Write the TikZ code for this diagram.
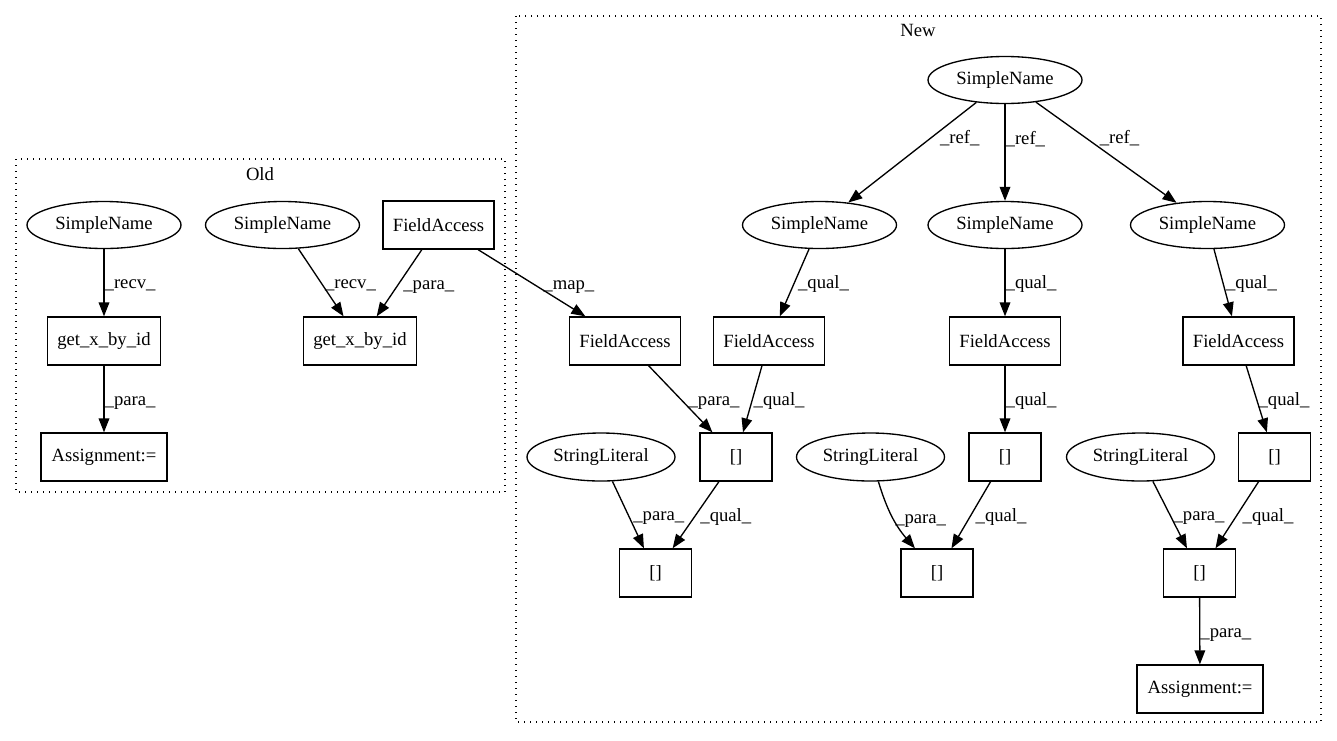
\documentclass[tikz,border=0pt]{standalone}
\usepackage{fontspec}
\setmainfont{Liberation Serif}
\usetikzlibrary{shapes.geometric,arrows.meta}
\begin{document}
\begin{tikzpicture}[x=0.75pt,y=-0.75pt,
  font=\fontsize{14}{16}\selectfont,
  ell/.style={draw, ellipse, line width=1pt, minimum width=115.5pt, minimum height=35.25pt, inner sep=0pt},
  sell/.style={draw, ellipse, line width=1pt, minimum width=111pt, minimum height=36pt, inner sep=0pt},
  box/.style={draw, rectangle, line width=1pt, minimum height=36pt, inner sep=0pt},
  fabox/.style={box, minimum width=83.25pt},
  getbox/.style={box, minimum width=84.75pt},
  asbox/.style={box, minimum width=94.5pt},
  brbox/.style={box, minimum width=54pt},
  edge/.style={-{Triangle[length=10.5pt,width=8pt]}, line width=1pt},
  lab/.style={anchor=west, inner sep=0pt, text height=10pt, text depth=1pt},
  clus/.style={draw, line width=1pt, dash pattern=on 1pt off 3.5pt}]
\useasboundingbox (0,0) rectangle (1337,740);

% clusters
\draw[clus] (16,159) rectangle (505,492);
\node (oldlab) at (260,174) {Old};
\draw[clus] (516,16) rectangle (1321,722);
\node (newlab) at (918,30) {New};

% Old nodes
\node[ell] (sno1) at (104,225) {SimpleName};
\node[ell] (sno2) at (282.5,225) {SimpleName};
\node[fabox] (fao) at (438.5,225) {FieldAccess};
\node[getbox] (geto1) at (104,341) {get\_x\_by\_id};
\node[getbox] (geto2) at (360,341) {get\_x\_by\_id};
\node[asbox] (asno) at (104,457) {Assignment:=};

% New nodes
\node[ell] (snt) at (1005,80) {SimpleName};
\node[ell] (sn1) at (819.5,225) {SimpleName};
\node[ell] (sn2) at (1005,225) {SimpleName};
\node[ell] (sn3) at (1207.5,225) {SimpleName};
\node[fabox] (fa1) at (625,341) {FieldAccess};
\node[fabox] (fa2) at (769,341) {FieldAccess};
\node[fabox] (fa3) at (1005,341) {FieldAccess};
\node[fabox] (fa4) at (1238.5,341) {FieldAccess};
\node[sell] (sl1) at (601,457) {StringLiteral};
\node[sell] (sl2) at (870.5,457) {StringLiteral};
\node[sell] (sl3) at (1140.5,457) {StringLiteral};
\node[brbox] (m1) at (736,457) {[]};
\node[brbox] (m2) at (1005,457) {[]};
\node[brbox] (m3) at (1274.5,457) {[]};
\node[brbox] (b1) at (655.5,573) {[]};
\node[brbox] (b2) at (937,573) {[]};
\node[brbox] (b3) at (1199.5,573) {[]};
\node[asbox] (asn) at (1200,689) {Assignment:=};

% Old edges
\draw[edge] (sno1) -- node[lab, pos=0.5] {\_recv\_} (geto1);
\draw[edge] (geto1) -- node[lab, pos=0.5] {\_para\_} (asno);
\draw[edge] (sno2) -- node[lab, pos=0.5, xshift=2.6pt] {\_recv\_} (geto2);
\draw[edge] (fao) -- node[lab, pos=0.5, xshift=2.6pt] {\_para\_} (geto2);
\draw[edge] (fao) -- node[lab, pos=0.5, xshift=8.25pt] {\_map\_} (fa1);

% New edges
\draw[edge] (snt) -- node[lab, pos=0.35, xshift=6pt] {\_ref\_} (sn1);
\draw[edge] (snt) -- node[lab, pos=0.35] {\_ref\_} (sn2);
\draw[edge] (snt) -- node[lab, pos=0.35, xshift=10.5pt] {\_ref\_} (sn3);
\draw[edge] (sn1) -- node[lab, pos=0.5, xshift=2.25pt] {\_qual\_} (fa2);
\draw[edge] (sn2) -- node[lab, pos=0.5] {\_qual\_} (fa3);
\draw[edge] (sn3) -- node[lab, pos=0.5, xshift=1.9pt] {\_qual\_} (fa4);
\draw[edge] (fa1) -- node[lab, pos=0.5, xshift=5.6pt] {\_para\_} (m1);
\draw[edge] (fa2) -- node[lab, pos=0.5, xshift=0.4pt] {\_qual\_} (m1);
\draw[edge] (fa3) -- node[lab, pos=0.5] {\_qual\_} (m2);
\draw[edge] (fa4) -- node[lab, pos=0.5, xshift=1.1pt] {\_qual\_} (m3);
\draw[edge] (sl1) -- node[lab, pos=0.5, xshift=3.4pt] {\_para\_} (b1);
\draw[edge] (m1) -- node[lab, pos=0.5, xshift=3pt] {\_qual\_} (b1);
\draw[edge] (sl2) to[bend right=12] node[lab, pos=0.5, xshift=1.5pt] {\_para\_} (b2);
\draw[edge] (m2) -- node[lab, pos=0.5, xshift=3pt] {\_qual\_} (b2);
\draw[edge] (sl3) -- node[lab, pos=0.5, xshift=2.25pt] {\_para\_} (b3);
\draw[edge] (m3) -- node[lab, pos=0.5, xshift=3.75pt] {\_qual\_} (b3);
\draw[edge] (b3) -- node[lab, pos=0.5] {\_para\_} (asn);
\end{tikzpicture}
\end{document}
